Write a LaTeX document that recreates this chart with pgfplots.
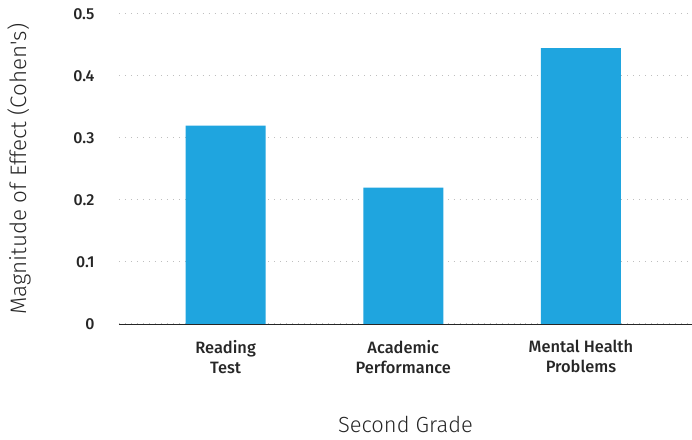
\documentclass[border=0pt]{standalone}
\usepackage{fontspec}
\setmainfont{Fira Sans}
\newfontfamily\lightfont{Fira Sans Light}
\newfontfamily\medfont{Fira Sans Medium}
\usepackage{pgfplots}
\pgfplotsset{compat=1.18}
\definecolor{barblue}{HTML}{1FA5DF}
\begin{document}
\begin{tikzpicture}
\begin{axis}[
        scale only axis,
        width=573bp,
        height=310bp,
        ymin=0, ymax=0.5,
        xmin=-0.6, xmax=2.625,
        ytick={0,0.1,...,0.5},
        yticklabel style={font=\fontsize{16}{18}\selectfont\medfont, text=black!85, xshift=-21bp},
        /pgf/number format/assume math mode=true,
        /pgf/number format/fixed,
        /pgf/number format/precision=1,
        xtick=data,
        xticklabels={Reading\\Test, Academic\\Performance, Mental Health\\Problems},
        xticklabel style={align=center, font=\fontsize{16.5}{20}\selectfont\medfont, text=black!85, yshift=-13bp},
        major tick length=0pt,
        axis x line*=bottom,
        axis y line*=left,
        y axis line style={draw=none},
        x axis line style={black!85, line width=0.8pt, -},
        ymajorgrids=true,
        grid style={black!25, line width=1pt, dash pattern=on 1pt off 5pt},
        ylabel={Magnitude of Effect (Cohen's)},
        ylabel style={font=\fontsize{22.5}{25}\selectfont\lightfont, text=black!85,
            at={(axis description cs:-0.148,0.5)}},
        xlabel={Second Grade},
        xlabel style={font=\fontsize{22}{24}\selectfont\lightfont, text=black!85, yshift=-36bp},
        ybar,
        bar width=0.45,
        enlarge y limits=false,
        clip=false,
    ]
\addplot[fill=barblue, draw=none] coordinates {
    (0,0.32)
    (1,0.22)
    (2,0.445)
};
\end{axis}
\pgfresetboundingbox
\path (current axis.south west) ++(-119bp,-116bp) coordinate (bl);
\path (current axis.north east) ++(0,14bp) coordinate (tr);
\path[use as bounding box] (bl) rectangle (tr);
\end{tikzpicture}
\end{document}
